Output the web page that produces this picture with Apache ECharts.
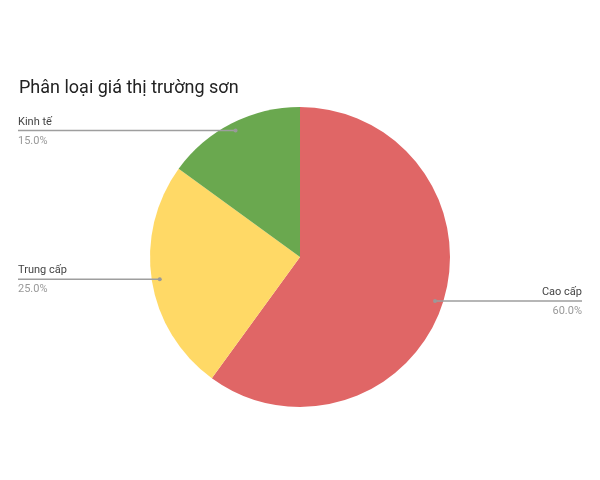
<!DOCTYPE html>
<html>
<head>
<meta charset="utf-8">
<script src="https://cdn.jsdelivr.net/npm/echarts@6/dist/echarts.min.js"></script>
<style>html,body{margin:0;padding:0;background:#fff}#c{width:600px;height:480px}</style>
</head>
<body>
<div id="c"></div>
<script>
const categories = ['Cao cấp', 'Trung cấp', 'Kinh tế'];
const values = [60, 25, 15];
const colors = ['#E06666', '#FFD966', '#6AA84F'];

const chart = echarts.init(document.getElementById('c'));
const CX = 300, CY = 257, R = 150, RIN = 142;
const total = values.reduce((a, b) => a + b, 0);
function midAngle(i) {
  let cum = 0;
  for (let k = 0; k < i; k++) cum += values[k];
  return ((cum + values[i] / 2) / total) * Math.PI * 2; // clockwise from top
}
function innerPoint(i) {
  const a = midAngle(i);
  return [CX + Math.sin(a) * RIN, CY - Math.cos(a) * RIN];
}

const basePie = {
  type: 'pie',
  center: [CX, CY],
  radius: [0, R],
  startAngle: 90,
  clockwise: true
};

chart.setOption({
  animation: false,
  backgroundColor: '#fff',
  title: {
    text: 'Phân loại giá thị trường sơn',
    left: 14, top: 74,
    textStyle: { fontFamily: 'Roboto', fontSize: 18, fontWeight: 'normal', color: '#222' }
  },
  series: [
    Object.assign({}, basePie, {
      z: 2,
      data: categories.map((c, i) => ({ name: c, value: values[i], itemStyle: { color: colors[i] } })),
      label: { show: false },
      labelLine: { show: false }
    }),
    Object.assign({}, basePie, {
      z: 5,
      silent: true,
      data: categories.map((c, i) => ({ name: c, value: values[i], itemStyle: { color: 'rgba(0,0,0,0)' } })),
      label: {
        show: true,
        formatter: p => '{n|' + p.name + '}\n{p|' + p.percent.toFixed(1) + '%}',
        rich: {
          n: { fontFamily: 'Roboto', fontSize: 11, color: '#444', lineHeight: 19 },
          p: { fontFamily: 'Roboto', fontSize: 11, color: '#999', lineHeight: 19 }
        }
      },
      labelLine: { show: true, showAbove: true, lineStyle: { color: '#9e9e9e', width: 1.5 } },
      labelLayout: function (params) {
        const i = params.dataIndex;
        const ip = innerPoint(i);
        const left = ip[0] < CX;
        const ex = left ? 18 : 582;
        return {
          x: ex, y: ip[1] + 1,
          align: left ? 'left' : 'right',
          verticalAlign: 'middle',
          labelLinePoints: [[ip[0], ip[1]], [(ip[0] + ex) / 2, ip[1]], [ex, ip[1]]]
        };
      }
    })
  ]
});

// small end dots at inner line ends
chart.setOption({
  graphic: values.map((v, i) => {
    const p = innerPoint(i);
    return { type: 'circle', shape: { cx: p[0], cy: p[1], r: 2 }, style: { fill: '#999' }, z: 100 };
  })
});
</script>
</body>
</html>
